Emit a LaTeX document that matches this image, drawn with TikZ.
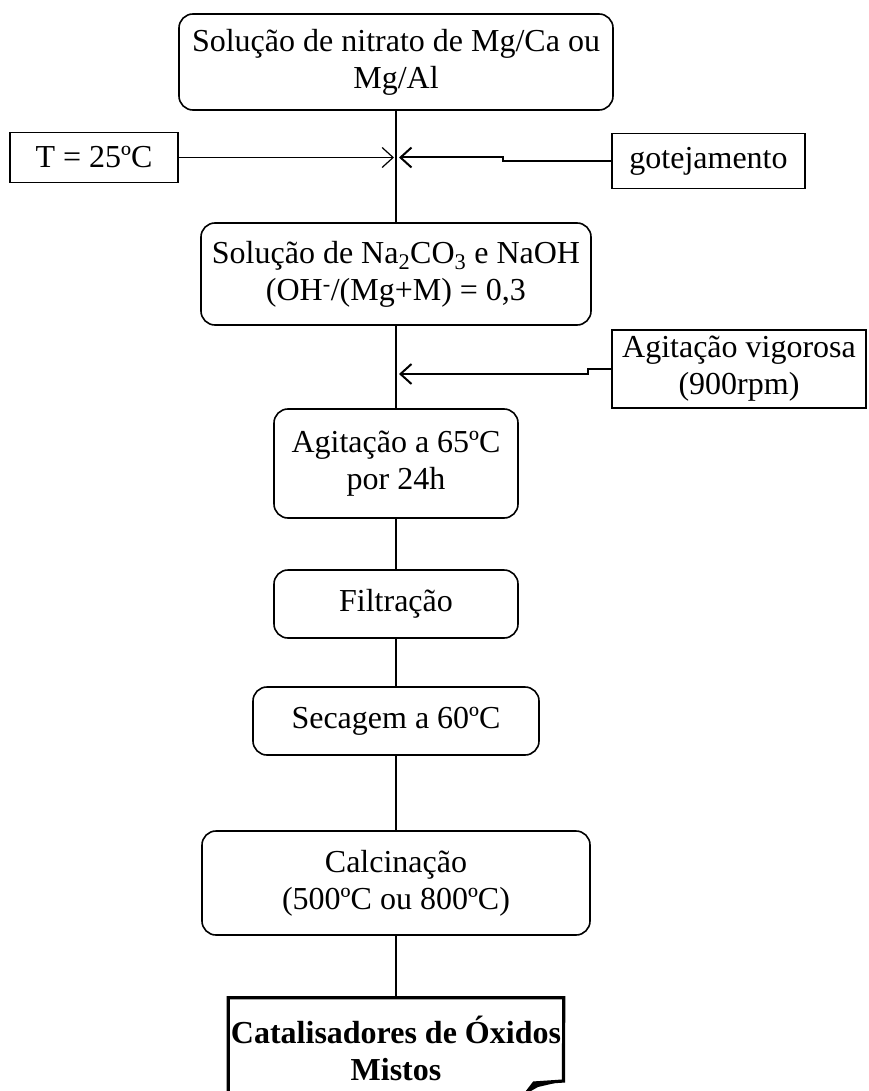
\documentclass[tikz,border=0pt]{standalone}
\usepackage{fontspec}
\setmainfont{Liberation Serif}
\usetikzlibrary{arrows.meta}
\tikzstyle{etapa} = [rectangle, rounded corners=14pt, draw=black, line width=1.6pt, align=center, inner sep=0pt]
\tikzstyle{cond} = [rectangle, draw=black, line width=1.4pt, align=center, inner sep=0pt]
\tikzstyle{liga} = [line width=2pt]
\tikzstyle{seta} = [line width=2pt,-{Straight Barb[length=11pt,width=20pt]}]
\tikzstyle{setafina} = [line width=1.2pt,-{Straight Barb[length=11pt,width=20pt]}]

\begin{document}
\begin{tikzpicture}[x=1pt,y=-1pt,font=\fontsize{32}{37}\selectfont]
\useasboundingbox (0,0) rectangle (869,1091);

% etapas do preparo
\node[etapa,minimum width=434pt,minimum height=96pt] (nitrato) at (396,62) {Solução de nitrato de Mg/Ca ou\\Mg/Al};
\node[etapa,minimum width=390pt,minimum height=102pt] (carbonato) at (396,274) {Solução de Na\textsubscript{2}CO\textsubscript{3} e NaOH\\(OH\textsuperscript{-}/(Mg+M) = 0,3};
\node[etapa,minimum width=244pt,minimum height=109pt] (agit) at (396,463.5) {Agitação a 65ºC\\por 24h};
\node[etapa,minimum width=244pt,minimum height=68pt] (filt) at (396,604) {Filtração};
\node[etapa,minimum width=286pt,minimum height=68pt] (sec) at (396,721) {Secagem a 60ºC};
\node[etapa,minimum width=388pt,minimum height=104pt] (calc) at (396,883) {Calcinação\\(500ºC ou 800ºC)};
\node[minimum width=335pt,minimum height=100pt,inner sep=0pt,align=center,font=\fontsize{32}{37}\selectfont\bfseries] (final) at (396,1048) {Catalisadores de Óxidos\\Mistos};

% condicoes
\node[cond,minimum width=168pt,minimum height=50pt] (temp) at (94,157.5) {T = 25ºC};
\node[cond,minimum width=193pt,minimum height=55pt] (gotej) at (708.5,161) {gotejamento};
\node[cond,minimum width=254pt,minimum height=78pt] (agvig) at (739,369) {Agitação vigorosa\\(900rpm)};

\coordinate (j1) at (396,157.5);
\coordinate (d1) at (503,157.5);
\coordinate (j2) at (396,374);
\coordinate (d2) at (588,374);

\foreach \a/\b in {nitrato/carbonato,carbonato/agit,agit/filt,filt/sec,sec/calc,calc/final}
	\draw[liga] (\a.south) -- (\b.north);

\draw[setafina,shorten >=2pt] (temp.east) -- (j1);
\draw[seta,shorten >=3pt] (gotej.west) -| (d1) -- (j1);
\draw[seta,shorten >=3pt] (agvig.west) -| (d2) -- (j2);

% documento final
\draw[line width=3.2pt] (final.south west) -- (final.north west) -- (final.north east) -- (563.5,1081) -- (534,1083) -- (524,1096);
\fill (563.5,1081) -- (534,1082) -- (522,1096) -- (538,1087) -- cycle;

\end{tikzpicture}
\end{document}
